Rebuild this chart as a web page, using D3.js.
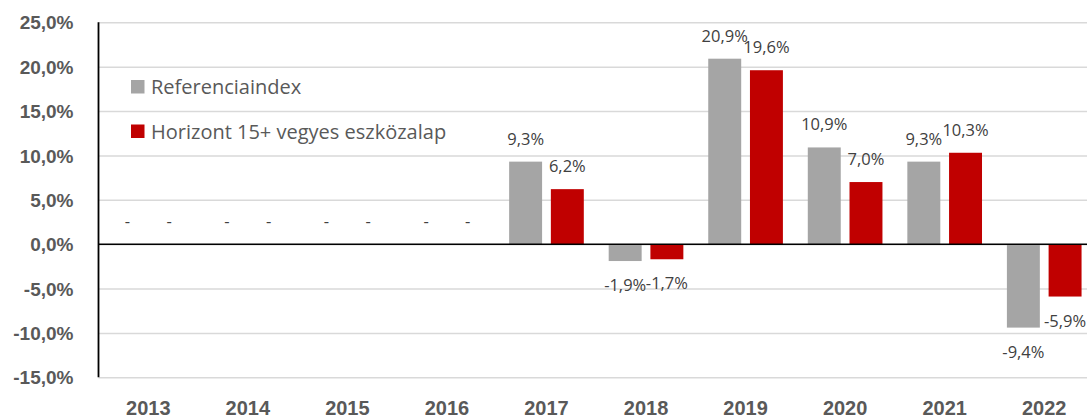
<!DOCTYPE html>
<html>
<head>
<meta charset="utf-8">
<script src="https://cdn.jsdelivr.net/npm/d3@7"></script>
<style>
	body { margin: 0; background: #fff; }
	svg { display: block; font-family: "Open Sans", sans-serif; }
	.grid line { stroke: #d9d9d9; stroke-width: 1.5; }
	.grid path { display: none; }
	.y.axis path, .x.axis path, .x.axis line { display: none; }
	.y.axis text, .x.axis text { fill: #595959; font-weight: bold; }
	.label { fill: #404040; font-size: 16.5px; }
	.legend--text { fill: #595959; font-size: 20px; }
</style>
</head>
<body>
<div id="graphic"></div>
<script>
// chart data
const years = ['2013', '2014', '2015', '2016', '2017', '2018', '2019', '2020', '2021', '2022'];
const seriesNames = ['Referenciaindex', 'Horizont 15+ vegyes eszközalap'];
const referenciaValues = [0, 0, 0, 0, 9.3, -1.9, 20.9, 10.9, 9.3, -9.4];
const horizontValues = [0, 0, 0, 0, 6.2, -1.7, 19.6, 7.0, 10.3, -5.9];
const yTicks = [-15, -10, -5, 0, 5, 10, 15, 20, 25];
const colourPalette = ['#a5a5a5', '#c00000'];

const width = 1087, height = 418;
const margin = { top: 22.3, right: -7, bottom: 40.7, left: 98.5 };
const chartWidth = width - margin.left - margin.right;
const chartHeight = height - margin.top - margin.bottom;

const graphicData = years.map((y, i) => ({
	year: y,
	values: [referenciaValues[i], horizontValues[i]]
}));

// hungarian style percent: comma decimal, plain hyphen for minus, zero shown as dash
const pct = (v) => d3.format('.1f')(v).replace('.', ',').replace('\u2212', '-') + '%';
const fmt = (v) => v === 0 ? '-' : pct(v);

const svgRoot = d3.select('#graphic')
	.append('svg')
	.attr('width', width)
	.attr('height', height);

const svg = svgRoot.append('g')
	.attr('transform', `translate(${margin.left},${margin.top})`);

const x = d3.scaleBand()
	.domain(years)
	.range([0, chartWidth])
	.paddingInner(0.25)
	.paddingOuter(0.125);

const xInner = d3.scaleBand()
	.domain([0, 1])
	.range([0, x.bandwidth()])
	.paddingInner(0.21);

const y = d3.scaleLinear()
	.domain([-15, 25])
	.range([chartHeight, 0]);

// grid lines
svg.append('g')
	.attr('class', 'grid')
	.call(d3.axisLeft(y).tickValues(yTicks).tickSize(-chartWidth).tickFormat(''));

// y axis labels
svg.append('g')
	.attr('class', 'y axis')
	.attr('transform', 'translate(-22,0)')
	.call(d3.axisLeft(y).tickValues(yTicks).tickSize(0).tickFormat(pct))
	.selectAll('text')
	.style('font-size', '19px')
	.attr('dy', '0.35em');

// bars
const groups = svg.selectAll('.group')
	.data(graphicData)
	.join('g')
	.attr('class', 'group')
	.attr('transform', (d) => `translate(${x(d.year)},0)`);

groups.selectAll('rect')
	.data((d) => d.values.map((v, i) => ({ v, i })))
	.join('rect')
	.attr('x', (d) => xInner(d.i))
	.attr('width', xInner.bandwidth())
	.attr('y', (d) => y(Math.max(0, d.v)))
	.attr('height', (d) => Math.abs(y(d.v) - y(0)))
	.attr('fill', (d) => colourPalette[d.i]);

// data labels
groups.selectAll('text.label')
	.data((d) => d.values.map((v, i) => ({ v, i })))
	.join('text')
	.attr('class', 'label')
	.attr('text-anchor', 'middle')
	.attr('x', (d) => xInner(d.i) + xInner.bandwidth() / 2)
	.attr('y', (d) => d.v >= 0 ? y(d.v) - 17 : y(d.v) + 30)
	.text((d) => fmt(d.v));

// zero line
svg.append('line')
	.attr('x1', 0)
	.attr('x2', chartWidth)
	.attr('y1', y(0))
	.attr('y2', y(0))
	.attr('stroke', '#000')
	.attr('stroke-width', 1.5);

// y axis line
svg.append('line')
	.attr('x1', 0)
	.attr('x2', 0)
	.attr('y1', 0)
	.attr('y2', chartHeight)
	.attr('stroke', '#000')
	.attr('stroke-width', 1.8);

// x axis labels
svg.append('g')
	.attr('class', 'x axis')
	.attr('transform', `translate(0,${chartHeight})`)
	.call(d3.axisBottom(x).tickSize(0).tickPadding(24))
	.selectAll('text')
	.style('font-size', '20px');

// legend
const legend = svg.selectAll('.legend--item')
	.data(seriesNames)
	.join('g')
	.attr('class', 'legend--item')
	.attr('transform', (d, i) => `translate(${131 - margin.left},${80 - margin.top + i * 44.5})`);

legend.append('rect')
	.attr('width', 13.5)
	.attr('height', 13.5)
	.attr('fill', (d, i) => colourPalette[i]);

legend.append('text')
	.attr('class', 'legend--text')
	.attr('x', 20)
	.attr('y', 14)
	.text((d) => d);
</script>
</body>
</html>
